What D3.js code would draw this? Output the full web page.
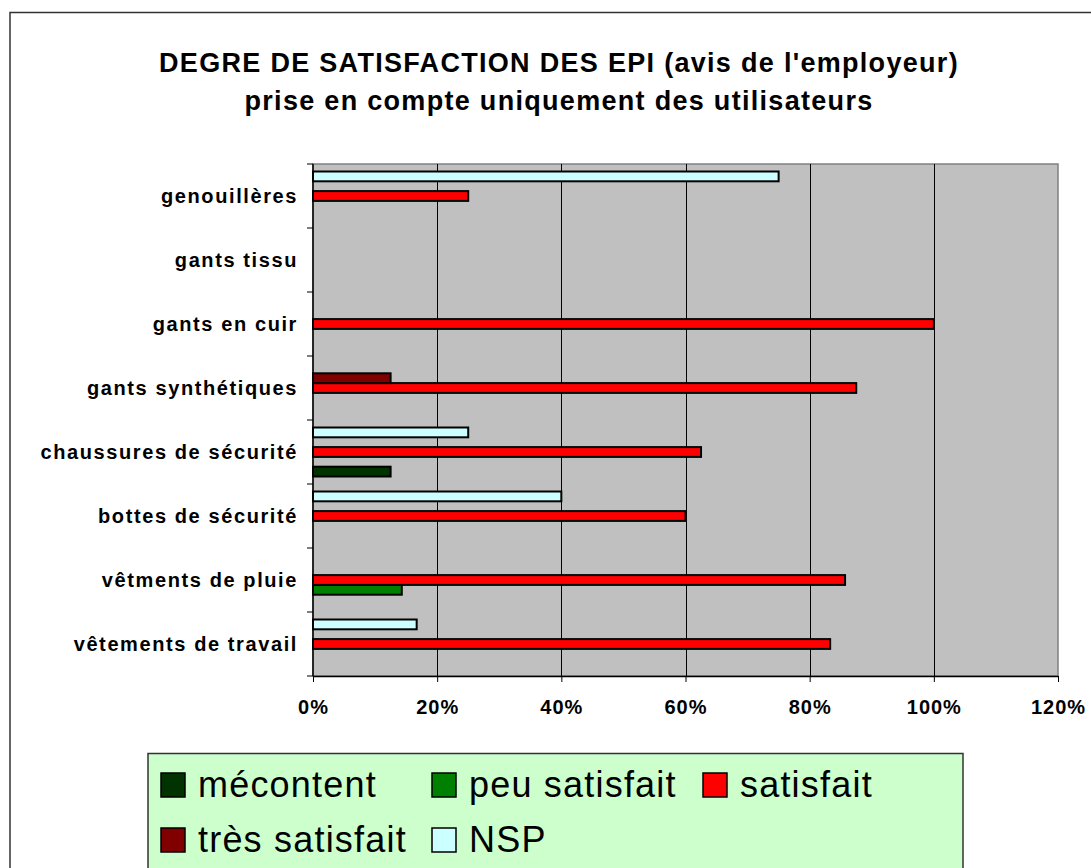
<!DOCTYPE html>
<html>
<head>
<meta charset="utf-8">
<script src="https://cdn.jsdelivr.net/npm/d3@7"></script>
<style>
body { margin: 0; background: #fff; }
text { font-family: "Liberation Sans", Arial, sans-serif; }
</style>
</head>
<body>
<div id="chart"></div>
<script>

// data
var categories = ["vêtements de travail", "vêtments de pluie", "bottes de sécurité", "chaussures de sécurité",
                  "gants synthétiques", "gants en cuir", "gants tissu", "genouillères"];
var seriesNames = ["mécontent", "peu satisfait", "satisfait", "très satisfait", "NSP"];
var seriesColors = ["#003300", "#008000", "#ff0000", "#800000", "#ccffff"];
var mecontent     = [0, 0, 0, 0.125, 0, 0, 0, 0];
var peuSatisfait  = [0, 0.143, 0, 0, 0, 0, 0, 0];
var satisfait     = [0.833, 0.857, 0.60, 0.625, 0.875, 1.0, 0, 0.25];
var tresSatisfait = [0, 0, 0, 0, 0.125, 0, 0, 0];
var nsp           = [0.167, 0, 0.40, 0.25, 0, 0, 0, 0.75];
var xTicks = [0, 0.2, 0.4, 0.6, 0.8, 1.0, 1.2];

var allSeries = [mecontent, peuSatisfait, satisfait, tresSatisfait, nsp];

var W = 1091, H = 868;
var plot = {left: 313, top: 164, right: 1058, bottom: 676};

var svg = d3.select("#chart").append("svg")
  .attr("width", W)
  .attr("height", H);

// chart area border (runs off the right and bottom edges)
svg.append("rect")
  .attr("x", 10).attr("y", 12.5)
  .attr("width", W + 20).attr("height", H + 20)
  .style("fill", "#fff")
  .style("stroke", "#333")
  .style("stroke-width", 1.5);

// title
var title = svg.append("text")
  .attr("text-anchor", "middle")
  .style("font-size", "27px")
  .style("font-weight", "bold")
  .style("letter-spacing", "1.3px");
title.append("tspan").attr("x", 559).attr("y", 72).text("DEGRE DE SATISFACTION DES EPI (avis de l'employeur)");
title.append("tspan").attr("x", 559).attr("y", 110).text("prise en compte uniquement des utilisateurs");

var x = d3.scaleLinear()
  .domain([0, 1.2])
  .range([plot.left, plot.right]);

// category bands, first category at the bottom
var y = d3.scaleBand()
  .domain(categories)
  .range([plot.bottom, plot.top])
  .padding(0);

// series inside a band, first series at the bottom
var yInner = d3.scaleBand()
  .domain(seriesNames.slice().reverse())
  .range([7.5, y.bandwidth() - 7.5]);

// plot area
svg.append("rect")
  .attr("x", plot.left).attr("y", plot.top)
  .attr("width", plot.right - plot.left).attr("height", plot.bottom - plot.top)
  .style("fill", "#c0c0c0")
  .style("stroke", "#808080")
  .style("stroke-width", 1.5);

// gridlines
svg.selectAll(".grid")
  .data(xTicks.slice(1, -1))
  .enter().append("line")
  .attr("x1", function(d) { return Math.round(x(d)) + 0.5; })
  .attr("x2", function(d) { return Math.round(x(d)) + 0.5; })
  .attr("y1", plot.top).attr("y2", plot.bottom)
  .style("stroke", "#000")
  .style("stroke-width", 1);

// bars
var groups = svg.selectAll(".cat")
  .data(categories)
  .enter().append("g")
  .attr("transform", function(d) { return "translate(0," + y(d) + ")"; });

groups.each(function(cat, ci) {
  var rows = seriesNames.map(function(s, si) {
    return {name: s, color: seriesColors[si], value: allSeries[si][ci]};
  }).filter(function(r) { return r.value > 0; });

  d3.select(this).selectAll("rect")
    .data(rows)
    .enter().append("rect")
    .attr("x", x(0))
    .attr("y", function(d) { return yInner(d.name); })
    .attr("width", function(d) { return x(d.value) - x(0); })
    .attr("height", yInner.bandwidth())
    .style("fill", function(d) { return d.color; })
    .style("stroke", "#000")
    .style("stroke-width", 2);
});

// x axis
var xAxis = svg.append("g")
  .attr("transform", "translate(0," + plot.bottom + ")")
  .call(d3.axisBottom(x).tickValues(xTicks).tickFormat(d3.format(".0%")).tickSize(6).tickSizeOuter(0));
xAxis.select(".domain").style("stroke", "#000").style("stroke-width", 1.5);
xAxis.selectAll(".tick line").style("stroke", "#000");
xAxis.selectAll("text")
  .attr("y", 24)
  .style("font-family", "'Liberation Sans', Arial, sans-serif")
  .style("font-size", "20px")
  .style("font-weight", "bold")
  .style("letter-spacing", "1px")
  .style("fill", "#000");

// y axis: ticks at band edges, labels centred in bands
var yAxis = svg.append("g")
  .attr("transform", "translate(" + plot.left + ",0)");
yAxis.append("line")
  .attr("x1", 0).attr("x2", 0)
  .attr("y1", plot.top).attr("y2", plot.bottom)
  .style("stroke", "#000").style("stroke-width", 1.5);
var edges = categories.map(function(c) { return y(c); }).concat([plot.bottom]);
yAxis.selectAll(".ytick")
  .data(edges)
  .enter().append("line")
  .attr("x1", -6).attr("x2", 0)
  .attr("y1", function(d) { return d; }).attr("y2", function(d) { return d; })
  .style("stroke", "#000");
yAxis.selectAll(".ylab")
  .data(categories)
  .enter().append("text")
  .attr("x", -15)
  .attr("y", function(d) { return y(d) + y.bandwidth() / 2; })
  .attr("dy", "0.35em")
  .attr("text-anchor", "end")
  .style("font-size", "20px")
  .style("font-weight", "bold")
  .style("letter-spacing", "1.6px")
  .text(function(d) { return d; });

// legend
var legend = svg.append("g");
legend.append("rect")
  .attr("x", 148).attr("y", 753.5)
  .attr("width", 815).attr("height", 140)
  .style("fill", "#ccffcc")
  .style("stroke", "#333")
  .style("stroke-width", 1.5);

var legendPos = [[161, 797], [432, 797], [703, 797], [161, 852], [432, 852]];
var items = legend.selectAll(".item")
  .data(seriesNames)
  .enter().append("g")
  .attr("transform", function(d, i) { return "translate(" + legendPos[i][0] + "," + legendPos[i][1] + ")"; });
items.append("rect")
  .attr("x", 0).attr("y", -24)
  .attr("width", 24).attr("height", 24)
  .style("fill", function(d, i) { return seriesColors[i]; })
  .style("stroke", "#000")
  .style("stroke-width", 1.5);
items.append("text")
  .attr("x", 37).attr("y", 0)
  .style("font-size", "36px")
  .style("letter-spacing", "1.2px")
  .text(function(d) { return d; });

</script>
</body>
</html>
